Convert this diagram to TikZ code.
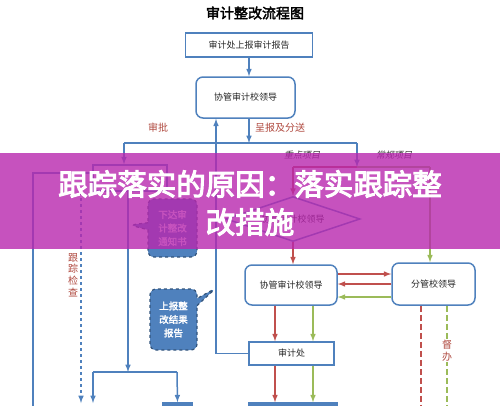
\documentclass[tikz,border=0pt]{standalone}
\usepackage{fontspec}
\newfontfamily\cjk[AutoFakeBold=2.5,AutoFakeSlant=0.2]{Noto Sans CJK SC}
\newfontfamily\cjkheavy[FakeBold=3.5]{Noto Sans CJK SC}
\usetikzlibrary{calc, positioning, shapes.geometric, shapes.callouts}
\definecolor{flowblue}{RGB}{79,129,189}
\definecolor{flowred}{RGB}{192,80,77}
\definecolor{flowgreen}{RGB}{155,187,89}
\definecolor{notered}{RGB}{175,72,62}
\definecolor{bandpink}{RGB}{184,39,174}

\begin{document}
\begin{tikzpicture}[x=1pt,y=-1pt,
box/.style={draw=flowblue,line width=1.5pt,fill=white,inner sep=0pt,align=center,
 text=black!85,font=\cjk\fontsize{9}{11}\selectfont},
rbox/.style={box,rounded corners=7pt},
note/.style={text=notered,align=center,font=\cjk\fontsize{10}{11.8}\selectfont},
tag/.style={text=black!80,font=\cjk\itshape\fontsize{9}{11}\selectfont},
bubble/.style={rectangle callout,rounded corners=6pt,draw=flowblue!65!black,dashed,
 line width=1.2pt,fill=flowblue,text=white,align=center,inner sep=0pt,
 font=\cjk\bfseries\fontsize{9.5}{13.5}\selectfont},
bl/.style={flowblue,line width=1.5pt},
rd/.style={flowred,line width=1.5pt},
gr/.style={flowgreen,line width=1.5pt}]
 \useasboundingbox (0,0) rectangle (500,405);

 \node[font=\cjk\bfseries\fontsize{14}{16}\selectfont] (title) at (255,13) {审计整改流程图};

 \node[box,minimum width=127pt,minimum height=24pt] (report) at (249,45) {审计处上报审计报告};
 \node[rbox,minimum width=99pt,minimum height=41pt] (coord) at (245.5,97.5) {协管审计校领导};
 \node[box,minimum width=74pt,minimum height=26pt] (unit) at (130,178) {};
 \node[diamond,aspect=3,draw=flowblue,line width=1.5pt,fill=white,inner sep=0pt,
 minimum width=134pt,minimum height=45pt,text=black!85,font=\cjk\fontsize{9}{11}\selectfont]
 (judge) at (293,219) {协管审计校领导};
 \node[rbox,minimum width=92pt,minimum height=40pt] (assist) at (291,285) {协管审计校领导};
 \node[rbox,minimum width=83pt,minimum height=42pt] (lead) at (433.5,284) {分管校领导};
 \node[box,minimum width=85pt,minimum height=23pt] (audit) at (291.5,353.5) {审计处};
 \node[box,fill=flowblue,minimum width=88pt,minimum height=24pt] (final) at (293,415) {};
 \node[box,fill=flowblue,minimum width=29pt,minimum height=24pt] (result) at (177.5,415) {};

 \coordinate (split) at (249,143);
 \coordinate (sl) at (124,143);
 \coordinate (sr) at (357,143);
 \coordinate (fork) at (357,167);
 \coordinate (fl) at (293,167);
 \coordinate (fr) at (430,167);
 \coordinate (join) at (128,372);
 \coordinate (jl) at (93,372);
 \coordinate (jr) at (177,372);
 \coordinate (chk) at (81,192);
 \coordinate (loop) at (33,410);

 % top part
 \draw[bl,-latex] (report.south) -- (report.south |- coord.north);
 \draw[bl,-latex] (coord.south -| split) -- (split);
 \draw[bl] (sl) -- (sr);
 \draw[bl,-latex] (sl) -- (sl |- unit.north);
 \draw[bl,-latex] (sr) -- (fork);
 \draw[rd] (fork) -- (fl);
 \draw[gr] (fork) -- (fr);
 \draw[rd,-latex] (fl) -- (judge.north);
 \draw[gr,-latex] (fr) -- (fr |- lead.north);
 \draw[rd,-latex] (judge.south) -- (judge.south |- assist.north);

 \node[note] (approve) at (158,128) {审批};
 \node[note] (send) at (280,128) {呈报及分送};
 \node[tag] (key) at (302,155) {重点项目};
 \node[tag] (routine) at (394,155) {常规项目};

 % between the two leaders
 \draw[rd,-latex] (assist.east |- 0,274) -- (lead.west |- 0,274);
 \draw[rd,-latex] (lead.west |- 0,284) -- (assist.east |- 0,284);
 \draw[gr,-latex] (lead.west |- 0,297) -- (assist.east |- 0,297);

 \foreach \X/\C in {275/rd,313/gr} {
 \draw[\C,-latex] (assist.south -| \X,0) -- (audit.north -| \X,0);
 \draw[\C,-latex] (audit.south -| \X,0) -- (final.north -| \X,0);
 }

 \draw[bl,-latex] (audit.west) -| (coord.south -| 216,0);

 \draw[rd,dash pattern=on 6pt off 3pt] (lead.south -| 421,0) -- (421,410);
 \draw[gr,dash pattern=on 6pt off 3pt] (lead.south -| 447,0) -- (447,410);
 \node[note,fill=white,inner sep=1pt] (urge) at (447,350.5) {督\\办};

 % left part
 \draw[bl] (unit.west |- 0,173) -| (loop);
 \draw[bl,dashed,-latex] (chk) -- (chk |- 0,403);
 \draw[bl,-latex] (unit.south -| join) -- (join);
 \draw[bl] (jl) -- (jr);
 \draw[bl,-latex] (jl) -- (jl |- 0,403);
 \draw[bl,-latex] (jr) -- (result.north);
 \node[note] (track) at (73,275) {跟\\踪\\检\\查};

 \node[bubble,minimum width=49pt,minimum height=58pt,callout absolute pointer={(130,225)}]
 (notice) at (172.5,228) {下达审\\计整改\\通知书};
 \node[bubble,minimum width=47pt,minimum height=61pt,callout absolute pointer={(216,288)}]
 (back) at (173.5,319.5) {上报整\\改结果\\报告};

 % banner
 \fill[bandpink,opacity=0.8] (0,153) rectangle (500,249);
 \node[text=white,align=center,font=\cjkheavy\fontsize{29.5}{38}\selectfont] (cause) at (250,203)
 {跟踪落实的原因：落实跟踪整\\改措施};
\end{tikzpicture}
\end{document}
